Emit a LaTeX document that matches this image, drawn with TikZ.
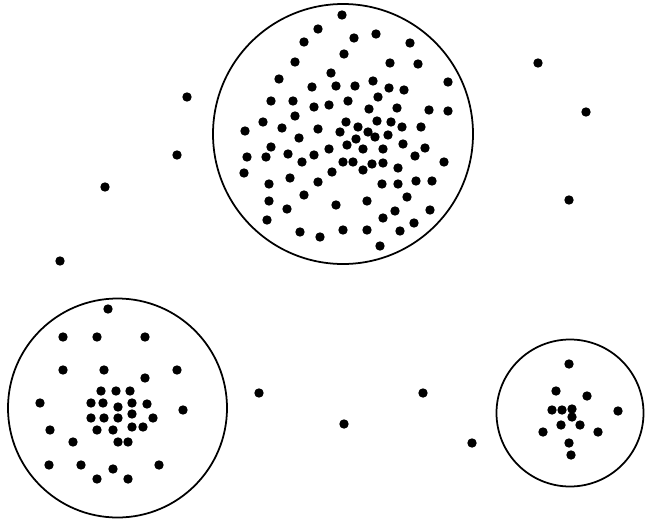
\documentclass[tikz,border=0pt]{standalone}
\usepackage{tikz}

\begin{document}
\begin{tikzpicture}[x=0.025cm,y=-0.025cm,
    cluster/.style={line width=1.25pt},
    pt/.style={fill=black}]
  \useasboundingbox (0,0) rectangle (645,520);
  % the three clusters
  \draw[cluster] (343,134) circle[radius=130];
  \draw[cluster] (117.5,408) circle[radius=109.5];
  \draw[cluster] (570,413) circle[radius=73.5];
  % points of the large cluster
  \foreach \p in {(342,15),(318,29),(354,38),(376,34),(304,42),(410,43),(344,54),
      (295,62),(390,63),(418,64),(331,73),(279,79),(373,81),(448,82),(312,87),
      (336,86),(355,86),(389,88),(404,90),(271,101),(293,101),(348,101),(378,97),
      (329,105),(314,107),(369,109),(397,108),(429,110),(448,111),(295,116),
      (263,122),(346,122),(377,121),(391,122),(245,131),(282,128),(318,129),
      (340,132),(358,127),(368,132),(375,137),(388,135),(402,127),(421,127),
      (356,139),(299,138),(347,145),(363,149),(383,149),(403,144),(425,148),
      (271,147),(247,157),(266,157),(288,154),(314,155),(329,149),(302,162),
      (343,162),(353,162),(372,164),(383,163),(363,170),(398,168),(415,156),
      (444,162),(244,173),(332,172),(269,184),(290,178),(318,182),(382,184),
      (398,184),(416,181),(432,181),(304,195),(407,197),(269,201),(287,209),
      (336,205),(367,201),(395,211),(430,210),(267,220),(383,218),(414,223),
      (300,232),(320,237),(343,230),(367,230),(400,231),(380,246)}
    \fill[pt] \p circle[radius=4.7];
  % points of the left cluster
  \foreach \p in {(108,309),(63,337),(97,337),(145,337),(63,370),(104,370),
      (177,370),(145,378),(101,391),(116,391),(130,391),(40,403),(91,403),
      (103,403),(132,403),(147,404),(118,407),(183,410),(91,418),(104,418),
      (118,418),(132,414),(153,418),(50,430),(97,430),(113,430),(132,427),
      (143,427),(73,442),(118,442),(128,442),(49,465),(81,465),(113,469),
      (159,465),(97,479),(128,479)}
    \fill[pt] \p circle[radius=4.7];
  % points of the right cluster
  \foreach \p in {(569,364),(556,391),(587,396),(552,410),(562,410),(572,409),
      (572,417),(618,411),(561,425),(580,425),(543,432),(598,432),(569,443),
      (571,455)}
    \fill[pt] \p circle[radius=4.7];
  % noise points
  \foreach \p in {(187,97),(177,155),(105,187),(60,261),(538,63),(586,112),
      (569,200),(259,393),(344,424),(423,393),(472,443)}
    \fill[pt] \p circle[radius=4.7];
\end{tikzpicture}
\end{document}
